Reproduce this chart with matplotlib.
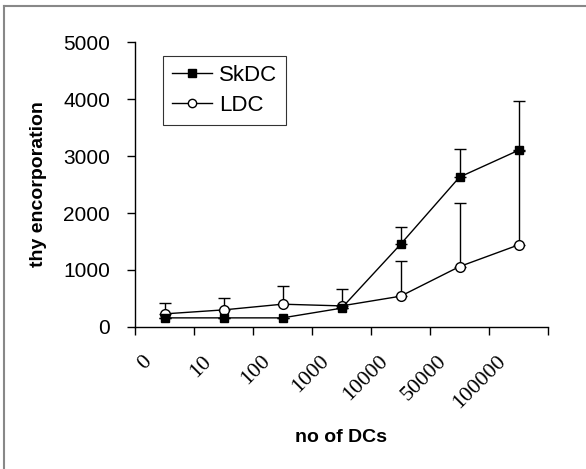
import matplotlib.pyplot as plt
from matplotlib.lines import Line2D
import matplotlib.transforms as mtransforms
import numpy as np

# Dades llegides del gràfic
categories = ['0', '10', '100', '1000', '10000', '50000', '100000']
skdc = [160, 160, 160, 330, 1450, 2630, 3100]
skdc_err = [0, 0, 0, 0, 300, 490, 860]
ldc = [230, 300, 400, 370, 540, 1060, 1440]
ldc_err = [190, 210, 320, 300, 620, 1120, 1650]

plt.rcParams['font.family'] = ['Liberation Sans', 'DejaVu Sans']

fig = plt.figure(figsize=(5.86, 4.69), dpi=100)
ax = fig.add_axes([0.2304, 0.3028, 0.7048, 0.6076])

x = np.arange(len(categories)) + 0.5

ax.errorbar(x, ldc, yerr=[np.zeros(len(ldc)), ldc_err], color='black', lw=1,
            marker='o', ms=7, mfc='white', mec='black', mew=1,
            capsize=4, elinewidth=1, capthick=1, zorder=2)
ax.errorbar(x, skdc, yerr=[np.zeros(len(skdc)), skdc_err], color='black', lw=1,
            marker='s', ms=6, mfc='black', mec='black',
            capsize=4, elinewidth=1, capthick=1, zorder=3)

ax.set_xlim(0, len(categories))
ax.set_ylim(0, 5000)
ax.set_yticks([0, 1000, 2000, 3000, 4000, 5000])
ax.tick_params(axis='y', labelsize=15, direction='out', length=6, width=1, pad=12)

ax.set_xticks(np.arange(len(categories) + 1))
ax.set_xticklabels([])
ax.tick_params(axis='x', which='major', direction='out', length=6, width=1)
ax.set_xticks(x, minor=True)
ax.set_xticklabels(categories, minor=True, rotation=45, ha='right', va='top',
                   rotation_mode='anchor', family='Liberation Serif', fontsize=16)
ax.tick_params(axis='x', which='minor', length=0, pad=18)
offset = mtransforms.ScaledTranslation(-22 / 100, 0, fig.dpi_scale_trans)
for lbl in ax.xaxis.get_minorticklabels():
    lbl.set_transform(lbl.get_transform() + offset)

ax.spines[['top', 'right']].set_visible(False)
ax.spines[['left', 'bottom']].set_linewidth(1)

ax.set_ylabel('thy encorporation', fontsize=14, fontweight='bold')
ax.yaxis.set_label_coords(-0.213, 0.5)
fig.text(0.582, 0.068, 'no of DCs', ha='center', va='center',
         fontsize=14, fontweight='bold')

handles = [Line2D([], [], color='black', lw=1, marker='s', ms=6, mfc='black'),
           Line2D([], [], color='black', lw=1, marker='o', ms=6, mfc='white')]
leg = ax.legend(handles, ['SkDC', 'LDC'], loc='upper left',
                bbox_to_anchor=(0.068, 0.951), fontsize=16, frameon=True,
                fancybox=False, edgecolor='black', handlelength=1.8,
                handletextpad=0.3, borderpad=0.4, labelspacing=0.4,
                borderaxespad=0)
leg.get_frame().set_linewidth(0.8)

# Marc gris de la figura
fig.add_artist(Line2D([0.007, 0.007], [0, 0.987], color='#888888', lw=1.5))
fig.add_artist(Line2D([0.007, 1], [0.987, 0.987], color='#888888', lw=1.5))

fig.savefig('out.png', dpi=100, facecolor='white')
